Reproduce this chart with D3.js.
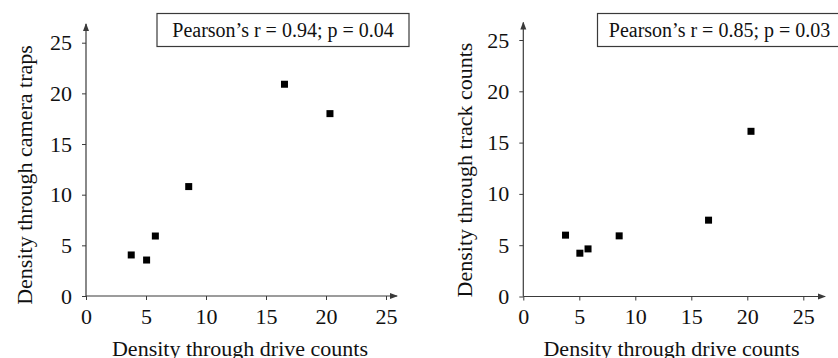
<!DOCTYPE html>
<html>
<head>
<meta charset="utf-8">
<script src="https://cdn.jsdelivr.net/npm/d3@7"></script>
<style>
  html, body { margin: 0; padding: 0; background: #fff; }
  svg { display: block; font-family: "Liberation Serif", "Times New Roman", serif; }
</style>
</head>
<body>
<div id="chart"></div>
<script>
// values
const driveCounts = [3.77, 5.05, 5.78, 8.56, 16.54, 20.33];
const cameraTraps = [4.05, 3.55, 5.92, 10.8, 20.9, 18.0];
const trackCounts = [5.98, 4.22, 4.64, 5.91, 7.44, 16.1];
const tickValues = [0, 5, 10, 15, 20, 25];

const COLORS = {
    axis: "#3a3a3a",
    text: "#111111",
    marker: "#000000",
};

const W = 838;
const H = 358;

const panels = [
    {
        yValues: cameraTraps,
        yLabel: "Density through camera traps",
        xLabel: "Density through drive counts",
        stat: "Pearson\u2019s r = 0.94; p = 0.04",
        x0: 86, x1: 386, xArrow: 397,
        y0: 296, y1: 42.7, yArrow: 24,
        yLabelX: 31.5, yLabelY: 175,
        xLabelX: 240,
        box: { x: 157, y: 13.5, w: 252, h: 33 },
    },
    {
        yValues: trackCounts,
        yLabel: "Density through track counts",
        xLabel: "Density through drive counts",
        stat: "Pearson\u2019s r = 0.85; p = 0.03",
        x0: 523.3, x1: 803.3, xArrow: 825,
        y0: 296.5, y1: 40, yArrow: 22.5,
        yLabelX: 471.5, yLabelY: 170,
        xLabelX: 671.5,
        box: { x: 597.5, y: 13.5, w: 244, h: 33 },
    },
];

const svg = d3
    .select("#chart")
    .append("svg")
    .attr("width", W)
    .attr("height", H)
    .attr("viewBox", `0 0 ${W} ${H}`);

const defs = svg.append("defs");
defs.append("marker")
    .attr("id", "arrow")
    .attr("viewBox", "0 0 8 8")
    .attr("refX", 7)
    .attr("refY", 4)
    .attr("markerWidth", 8)
    .attr("markerHeight", 8)
    .attr("markerUnits", "userSpaceOnUse")
    .attr("orient", "auto")
    .append("path")
    .attr("d", "M0,1 L8,4 L0,7 Z")
    .attr("fill", COLORS.axis);

panels.forEach((p) => {
    const x = d3.scaleLinear().domain([0, 25]).range([p.x0, p.x1]);
    const y = d3.scaleLinear().domain([0, 25]).range([p.y0, p.y1]);
    const g = svg.append("g");

    // axis lines with arrowheads
    g.append("line")
        .attr("x1", p.x0).attr("y1", p.y0)
        .attr("x2", p.xArrow).attr("y2", p.y0)
        .attr("stroke", COLORS.axis).attr("stroke-width", 1.2)
        .attr("marker-end", "url(#arrow)");
    g.append("line")
        .attr("x1", p.x0).attr("y1", p.y0)
        .attr("x2", p.x0).attr("y2", p.yArrow)
        .attr("stroke", COLORS.axis).attr("stroke-width", 1.2)
        .attr("marker-end", "url(#arrow)");

    const xAxis = d3.axisBottom(x).tickValues(tickValues).tickSize(4).tickSizeOuter(0).tickPadding(8);
    g.append("g")
        .attr("transform", `translate(0,${p.y0})`)
        .call(xAxis)
        .call((a) => {
            a.select(".domain").remove();
            a.selectAll(".tick line").attr("stroke", COLORS.axis);
            a.selectAll(".tick text")
                .attr("fill", COLORS.text)
                .style("font-family", "Liberation Serif")
                .style("font-size", "22px");
        });

    const yAxis = d3.axisLeft(y).tickValues(tickValues).tickSize(4).tickSizeOuter(0).tickPadding(10);
    g.append("g")
        .attr("transform", `translate(${p.x0},0)`)
        .call(yAxis)
        .call((a) => {
            a.select(".domain").remove();
            a.selectAll(".tick line").attr("stroke", COLORS.axis);
            a.selectAll(".tick text")
                .attr("fill", COLORS.text)
                .style("font-family", "Liberation Serif")
                .style("font-size", "22px");
        });

    // axis titles
    g.append("text")
        .attr("x", p.xLabelX)
        .attr("y", 355.5)
        .attr("text-anchor", "middle")
        .attr("fill", COLORS.text)
        .style("font-size", "22px")
        .text(p.xLabel);

    g.append("text")
        .attr("transform", `translate(${p.yLabelX},${p.yLabelY}) rotate(-90)`)
        .attr("text-anchor", "middle")
        .attr("fill", COLORS.text)
        .style("font-size", "22px")
        .text(p.yLabel);

    // points
    const ms = 7;
    g.append("g")
        .selectAll("rect")
        .data(driveCounts.map((d, i) => [d, p.yValues[i]]))
        .enter()
        .append("rect")
        .attr("x", (d) => x(d[0]) - ms / 2)
        .attr("y", (d) => y(d[1]) - ms / 2)
        .attr("width", ms)
        .attr("height", ms)
        .attr("fill", COLORS.marker);

    // correlation box
    g.append("rect")
        .attr("x", p.box.x)
        .attr("y", p.box.y)
        .attr("width", p.box.w)
        .attr("height", p.box.h)
        .attr("fill", "#fff")
        .attr("stroke", COLORS.axis)
        .attr("stroke-width", 1.2);
    g.append("text")
        .attr("x", p.box.x + p.box.w / 2)
        .attr("y", p.box.y + 23.5)
        .attr("text-anchor", "middle")
        .attr("fill", COLORS.text)
        .style("font-size", "20px")
        .text(p.stat);
});
</script>
</body>
</html>
